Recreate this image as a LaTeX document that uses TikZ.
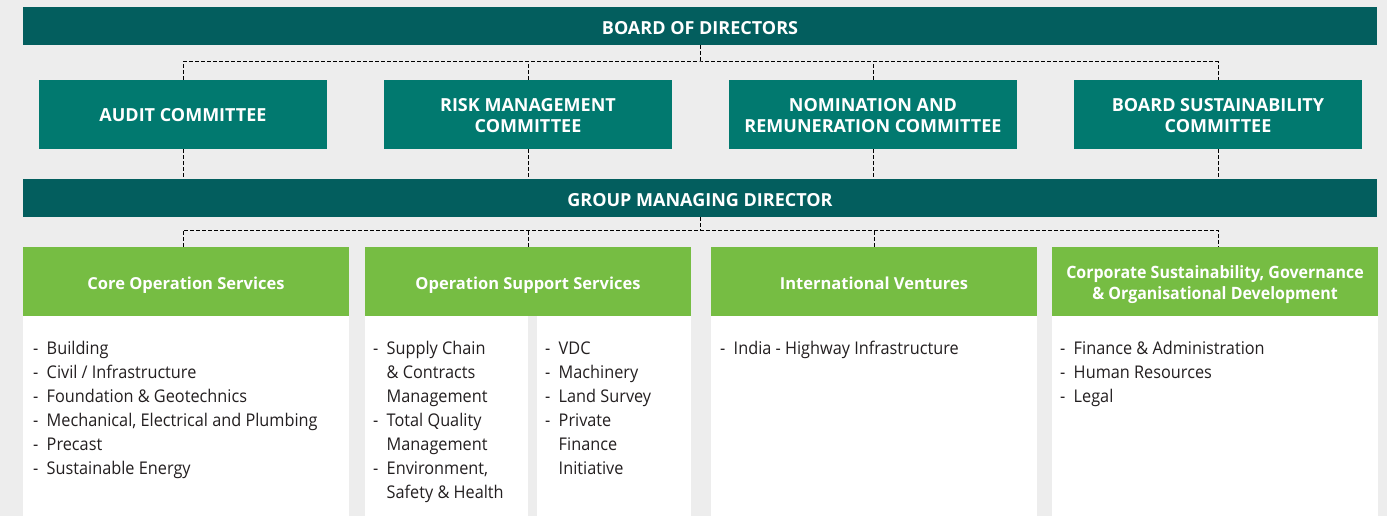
\documentclass[tikz,border=0pt]{standalone}
\usepackage{fontspec}
\setmainfont{Open Sans}
\newfontfamily\narrowfont[FakeStretch=0.94]{Open Sans}
\newfontfamily\listfont[FakeStretch=0.93]{Open Sans}
\usepackage{tikz}
\usetikzlibrary{positioning}
\definecolor{BoardTeal}{HTML}{035E5E}
\definecolor{CommTeal}{HTML}{01796F}
\definecolor{DivGreen}{HTML}{76BD43}
\definecolor{PageGrey}{HTML}{EDEDED}
\definecolor{ListGrey}{HTML}{231F20}
\newcommand{\lowered}[2]{\raisebox{-#1}[\height][\depth]{#2}}

\begin{document}
\begin{tikzpicture}[x=1pt, y=-1pt,
      bar/.style={fill=BoardTeal, text=white, minimum width=1354pt, minimum height=38pt, inner sep=0pt, font=\fontsize{18}{21}\selectfont\bfseries},
      committee/.style={fill=CommTeal, text=white, minimum width=288pt, minimum height=69pt, inner sep=0pt, align=center, font=\fontsize{18}{21}\selectfont\bfseries},
      division/.style={fill=DivGreen, text=white, minimum width=326pt, minimum height=69pt, inner sep=0pt, align=center, font=\fontsize{16.5}{21}\selectfont\bfseries},
      body/.style={fill=white, anchor=north west, minimum height=200pt, inner sep=0pt},
      list/.style={inner sep=0pt, text=ListGrey, font=\fontsize{17.5}{24}\selectfont\listfont},
      link/.style={dash pattern=on 4pt off 2pt, line width=1pt}
  ]
    \fill[PageGrey] (0,0) rectangle (1387,516);
    \node[bar](board) at (700,26){\lowered{2pt}{BOARD OF DIRECTORS}};
    \node[committee](audit) at (183,114.5){\lowered{1pt}{AUDIT COMMITTEE}};
    \node[committee](risk) at (528,114.5){\lowered{3pt}{\begin{tabular}{@{}c@{}}RISK MANAGEMENT\\COMMITTEE\end{tabular}}};
    \node[committee](nomrem) at (873,114.5){\lowered{3pt}{\begin{tabular}{@{}c@{}}NOMINATION AND\\REMUNERATION COMMITTEE\end{tabular}}};
    \node[committee](bsc) at (1218,114.5){\lowered{3pt}{\begin{tabular}{@{}c@{}}BOARD SUSTAINABILITY\\COMMITTEE\end{tabular}}};
    \node[bar](gmd) at (700,198){\lowered{2pt}{GROUP MANAGING DIRECTOR}};
    \node[division](core) at (186,281.5){\lowered{4pt}{Core Operation Services}};
    \node[division](opsup) at (528,281.5){\lowered{4pt}{Operation Support Services}};
    \node[division](intl) at (874,281.5){\lowered{2pt}{International Ventures}};
    \node[division, font=\fontsize{17}{21}\selectfont\bfseries\narrowfont](corp) at (1215,281.5){\lowered{3pt}{\begin{tabular}{@{}c@{}}Corporate Sustainability, Governance\\\& Organisational Development\end{tabular}}};
    \node[body, minimum width=326pt](corebody) at (core.south west){};
    \node[body, minimum width=163pt](opsupleft) at (opsup.south west){};
    \node[body, minimum width=154pt, anchor=north east](opsupright) at (opsup.south east){};
    \node[body, minimum width=326pt](intlbody) at (intl.south west){};
    \node[body, minimum width=326pt, anchor=north east](corpbody) at (corp.south east){};
    \node[list, below right=21pt and 10pt of corebody.north west](corelist){\begin{tabular}{@{}l@{\hspace{8.5pt}}l@{}}
      -&Building\\ -&Civil / Infrastructure\\ -&Foundation \& Geotechnics\\
      -&Mechanical, Electrical and Plumbing\\ -&Precast\\ -&Sustainable Energy
    \end{tabular}};
    \node[list, below right=21pt and 8pt of opsupleft.north west](opsuplist){\begin{tabular}{@{}l@{\hspace{8.5pt}}l@{}}
      -&Supply Chain\\ &\& Contracts\\ &Management\\ -&Total Quality\\ &Management\\
      -&Environment,\\ &Safety \& Health
    \end{tabular}};
    \node[list, below right=21pt and 8pt of opsupright.north west](opsuprlist){\begin{tabular}{@{}l@{\hspace{8.5pt}}l@{}}
      -&VDC\\ -&Machinery\\ -&Land Survey\\ -&Private\\ &Finance\\ &Initiative
    \end{tabular}};
    \node[list, below right=21pt and 9pt of intlbody.north west](intllist){\begin{tabular}{@{}l@{\hspace{8.5pt}}l@{}}
      -&India - Highway Infrastructure
    \end{tabular}};
    \node[list, below right=21pt and 8pt of corpbody.north west](corplist){\begin{tabular}{@{}l@{\hspace{8.5pt}}l@{}}
      -&Finance \& Administration\\ -&Human Resources\\ -&Legal
    \end{tabular}};
    \coordinate(topbus) at (700,62);
    \coordinate(lowbus) at (700,230);
    \draw[link](board.south)--(topbus);
    \draw[link](audit.north)|-(topbus)-|(bsc.north);
    \foreach \c in {risk,nomrem} \draw[link](\c.north)--(\c.north |- topbus);
    \foreach \c in {audit,risk,nomrem,bsc} \draw[link](\c.south)--(\c.south |- gmd.north);
    \draw[link](gmd.south)--(lowbus);
    \draw[link](core.north -| audit)|-(lowbus)-|(corp.north -| bsc);
    \foreach \c in {opsup,intl} \draw[link](\c.north)--(\c.north |- lowbus);
  \end{tikzpicture}
\end{document}
